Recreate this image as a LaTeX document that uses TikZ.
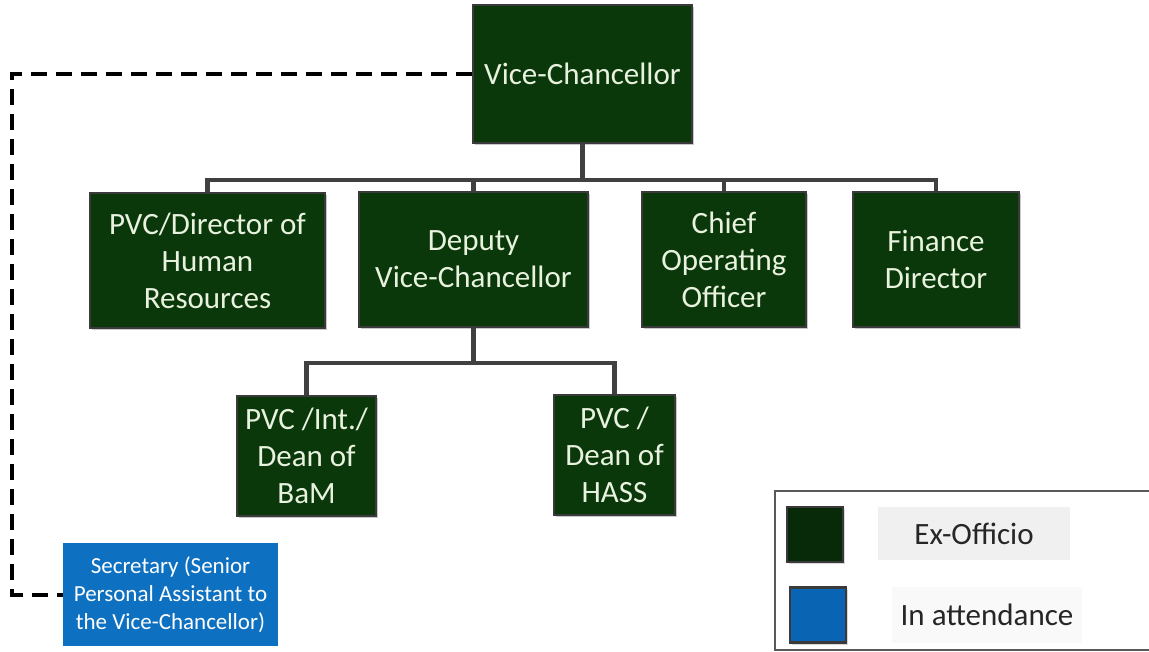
\documentclass[tikz,border=0pt]{standalone}
\usepackage{fontspec}
\setmainfont{Carlito}
\usetikzlibrary{shadows}
\definecolor{vcgreen}{RGB}{10,56,10}
\definecolor{keygreen}{RGB}{8,42,8}
\definecolor{boxborder}{RGB}{58,58,58}
\definecolor{boxtext}{RGB}{232,242,222}
\definecolor{secblue}{RGB}{14,112,192}
\definecolor{keyblue}{RGB}{10,100,180}
\definecolor{linegray}{RGB}{64,64,64}
\definecolor{labelbg}{RGB}{240,240,240}
\definecolor{labelbgb}{RGB}{249,249,249}
\begin{document}
\begin{tikzpicture}[x=1pt,y=-1pt,
  orgbox/.style={draw=boxborder, line width=2.5pt, fill=vcgreen, text=boxtext,
    align=center, inner sep=0pt, font=\fontsize{31}{37}\selectfont,
    drop shadow={shadow xshift=2pt, shadow yshift=-2pt, fill=black!35, opacity=0.6}},
  secbox/.style={fill=secblue, text=white, align=center, inner sep=0pt,
    font=\fontsize{23}{28}\selectfont},
  keysq/.style={draw=boxborder, line width=2.5pt, minimum width=56pt, minimum height=55pt, inner sep=0pt,
    drop shadow={shadow xshift=2pt, shadow yshift=-2pt, fill=black!30, opacity=0.5}},
  keylabel/.style={text=black!85, inner sep=0pt, font=\fontsize{31}{37}\selectfont},
  tree/.style={draw=linegray, line width=4.5pt},
  dashline/.style={draw=black, line width=4pt, dash pattern=on 16pt off 9pt}
]
\useasboundingbox (0,0) rectangle (1149,652);
\fill[white] (0,0) rectangle (1149,652);

% nodes
\node[orgbox, minimum width=219pt, minimum height=138pt] (vc) at (582.5,74) {Vice-Chancellor};
\node[orgbox, minimum width=235pt, minimum height=135pt] (hr) at (207.5,260.5) {PVC/Director of\\Human\\Resources};
\node[orgbox, minimum width=229pt, minimum height=135pt] (dvc) at (473.5,259.5) {Deputy\\Vice-Chancellor};
\node[orgbox, minimum width=164pt, minimum height=135pt] (coo) at (724,259.5) {Chief\\Operating\\Officer};
\node[orgbox, minimum width=166pt, minimum height=135pt] (fd) at (936,259.5) {Finance\\Director};
\node[orgbox, minimum width=139pt, minimum height=120pt] (bam) at (306.5,456) {PVC /Int./\\Dean of\\BaM};
\node[orgbox, minimum width=121pt, minimum height=120pt] (hass) at (614.5,455) {PVC /\\Dean of\\HASS};
\node[secbox, minimum width=215pt, minimum height=103pt] (sec) at (170.5,594.5) {Secretary (Senior\\Personal Assistant to\\the Vice-Chancellor)};

% connectors
\coordinate (bus) at (582.5,180);
\coordinate (bus2) at (473.5,363);
\coordinate (dl) at (12,300);
\draw[tree] (vc.south) -- (bus);
\draw[tree] (hr.north) |- (bus);
\draw[tree] (dvc.north) |- (bus);
\draw[tree] (coo.north) |- (bus);
\draw[tree] (fd.north) |- (bus);
\draw[tree] (dvc.south) -- (bus2);
\draw[tree] (bam.north) |- (bus2);
\draw[tree] (hass.north) |- (bus2);
\draw[dashline] (vc.west) -| (dl) |- (sec.west);

% legend
\draw[draw=black!65, line width=2pt, fill=white] (775,491) rectangle (1165,650);
\node[keysq, fill=keygreen] (kex) at (815,534.5) {};
\node[keysq, fill=keyblue] (kat) at (818,615) {};
\node[keylabel, fill=labelbg, minimum width=192pt, minimum height=53pt] (lex) at (974,533.5) {Ex-Officio};
\node[keylabel, fill=labelbgb, minimum width=190pt, minimum height=56pt] (lat) at (987,615) {In attendance};
\end{tikzpicture}
\end{document}
